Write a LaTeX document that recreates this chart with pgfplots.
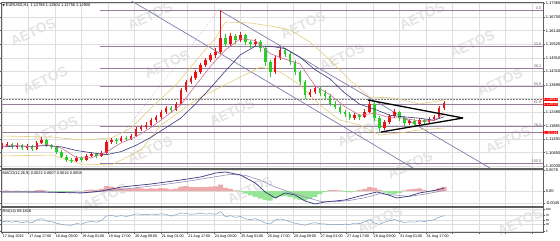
\documentclass[border=0pt]{standalone}
\usepackage{pgfplots}
\usepackage{pgfplotstable}
\pgfplotsset{compat=1.18}
\usepackage{fontspec}
\setmainfont{Liberation Sans}
\newfontfamily\dejavu{DejaVu Sans}
\definecolor{bull}{RGB}{235,20,20}
\definecolor{bear}{RGB}{40,205,40}
\definecolor{fib}{RGB}{150,125,155}
\definecolor{chan}{RGB}{125,125,170}
\definecolor{mafast}{RGB}{200,110,150}
\definecolor{maslow}{RGB}{55,55,125}
\definecolor{boll}{RGB}{228,205,125}
\definecolor{gridc}{RGB}{222,222,222}
\definecolor{framec}{RGB}{95,95,95}
\definecolor{wm}{RGB}{228,228,228}
\definecolor{histpos}{RGB}{238,170,170}
\definecolor{histneg}{RGB}{150,228,150}
\definecolor{rsic}{RGB}{120,160,200}
\definecolor{macdsig}{RGB}{150,140,185}

\pgfplotstableread{
i o h l c
0 1.10905 1.11085 1.10815 1.10950
1 1.10950 1.11130 1.10905 1.11040
3 1.10905 1.11085 1.10815 1.10995
5 1.10860 1.11040 1.10770 1.10950
7 1.10815 1.11175 1.10770 1.11085
8 1.11085 1.11355 1.11040 1.11220
15 1.10275 1.10500 1.10230 1.10410
17 1.10320 1.10590 1.10275 1.10500
18 1.10500 1.10680 1.10455 1.10590
20 1.10500 1.10725 1.10455 1.10635
21 1.10635 1.11220 1.10590 1.11130
22 1.11130 1.11310 1.11040 1.11220
24 1.11175 1.11400 1.11130 1.11310
26 1.11265 1.11490 1.11220 1.11400
27 1.11400 1.11805 1.11355 1.11715
28 1.11715 1.11895 1.11625 1.11805
29 1.11805 1.12030 1.11715 1.11895
30 1.11895 1.12210 1.11850 1.12120
31 1.12120 1.12345 1.12030 1.12255
32 1.12255 1.12570 1.12165 1.12480
33 1.12480 1.12750 1.12390 1.12660
35 1.12570 1.12930 1.12525 1.12840
36 1.12840 1.13560 1.12795 1.13470
37 1.13470 1.13920 1.13380 1.13830
38 1.13830 1.14100 1.13740 1.14010
39 1.14010 1.14370 1.13920 1.14280
40 1.14280 1.14685 1.14190 1.14595
41 1.14595 1.14910 1.14505 1.14820
42 1.14820 1.15135 1.14730 1.15045
43 1.15045 1.15360 1.14910 1.15180
44 1.15180 1.17070 1.15090 1.15810
46 1.15540 1.16035 1.15450 1.15900
48 1.15720 1.16080 1.15630 1.15945
51 1.15540 1.15765 1.15450 1.15630
55 1.14280 1.15000 1.14190 1.14910
56 1.14910 1.15405 1.14820 1.15270
62 1.13245 1.13515 1.13155 1.13380
63 1.13380 1.13650 1.13290 1.13560
71 1.12210 1.12435 1.12120 1.12345
73 1.12255 1.12615 1.12210 1.12480
74 1.12480 1.13020 1.12435 1.12840
77 1.11760 1.12120 1.11670 1.12030
78 1.12030 1.12390 1.11940 1.12300
79 1.12300 1.12615 1.12210 1.12480
82 1.11985 1.12165 1.11895 1.12075
84 1.11940 1.12210 1.11850 1.12120
86 1.12030 1.12255 1.11940 1.12165
87 1.12165 1.12345 1.12075 1.12255
88 1.12255 1.12750 1.12210 1.12660
89 1.12660 1.12975 1.12570 1.12900
}\bulltab

\pgfplotstableread{
i o h l c
2 1.11040 1.11085 1.10815 1.10905
4 1.10995 1.11040 1.10770 1.10860
6 1.10950 1.10995 1.10725 1.10815
9 1.11220 1.11265 1.10905 1.10995
10 1.10995 1.11040 1.10815 1.10905
11 1.10905 1.10950 1.10590 1.10680
12 1.10680 1.10770 1.10410 1.10455
13 1.10455 1.10545 1.10230 1.10320
14 1.10320 1.10410 1.10185 1.10275
16 1.10410 1.10500 1.10230 1.10320
19 1.10590 1.10635 1.10410 1.10500
23 1.11220 1.11310 1.11040 1.11175
25 1.11310 1.11400 1.11175 1.11265
34 1.12660 1.12750 1.12435 1.12570
45 1.15810 1.15990 1.15405 1.15540
47 1.15900 1.15990 1.15540 1.15720
49 1.15945 1.15990 1.15495 1.15630
50 1.15630 1.15720 1.15360 1.15540
52 1.15630 1.15720 1.15180 1.15360
53 1.15360 1.15450 1.14550 1.14730
54 1.14730 1.14820 1.14055 1.14280
57 1.15270 1.15360 1.14955 1.15090
58 1.15090 1.15180 1.14595 1.14730
59 1.14730 1.14820 1.14145 1.14280
60 1.14280 1.14370 1.13695 1.13830
61 1.13830 1.13920 1.13065 1.13245
64 1.13560 1.13605 1.13200 1.13335
65 1.13335 1.13470 1.13065 1.13200
66 1.13200 1.13290 1.12750 1.12840
67 1.12840 1.12975 1.12615 1.12705
68 1.12705 1.12795 1.12390 1.12480
69 1.12480 1.12570 1.12255 1.12390
70 1.12390 1.12480 1.12120 1.12210
72 1.12345 1.12390 1.12120 1.12255
75 1.12840 1.12930 1.12075 1.12210
76 1.12210 1.12300 1.11580 1.11760
80 1.12480 1.12525 1.12075 1.12210
81 1.12210 1.12300 1.11850 1.11985
83 1.12075 1.12165 1.11805 1.11940
85 1.12120 1.12165 1.11895 1.12030
}\beartab

\tikzset{lab/.style={font=\fontsize{3.9}{4.5}\selectfont, inner sep=0.4pt}}
\pgfplotsset{
  panel/.style={
    scale only axis, width=542pt,
    xmin=-0.2, xmax=108.9,
    axis line style={framec, line width=0.9pt},
    xtick={0,5.3333,10.6667,16,21.3333,26.6667,32,37.3333,42.6667,48,53.3333,58.6667,64,69.3333,74.6667,80,85.3333,90.6667,96,101.3333,106.6667},
    minor x tick num=1,
    xmajorgrids, xminorgrids, ymajorgrids,
    major grid style={gridc, line width=0.4pt},
    minor grid style={gridc, line width=0.4pt},
    yticklabel pos=right,
    tick align=outside,
    major tick length=2pt, minor tick length=1.2pt,
    tick style={framec, line width=0.4pt},
    ticklabel style={font=\fontsize{4}{4.5}\selectfont, text=black},
    yticklabel style={anchor=west, inner sep=0.6pt},
    scaled y ticks=false,
    clip mode=individual,
  },
  nox/.style={xticklabels={}, xtick style={draw=none}},
  wick/.style={draw=none, mark=none, error bars/.cd, y dir=both, y explicit, error mark=none, error bar style={draw=#1, line width=0.55pt}},
  body/.style 2 args={draw=none, mark=none, error bars/.cd, y dir=#2, y explicit, error mark=none, error bar style={draw=#1, line width=2.5pt}},
}

\begin{document}
\begin{tikzpicture}
\useasboundingbox (0pt,0pt) rectangle (560pt,-241pt);
% watermarks
\begin{scope}[every node/.style={rotate=25, text=wm, font=\fontsize{14}{14}\selectfont\bfseries}]
\node at (33pt,-32pt) {AETOS};
\node at (150pt,-16pt) {AETOS};
\node at (167pt,-64pt) {AETOS};
\node at (45pt,-80pt) {AETOS};
\node at (232pt,-112pt) {AETOS};
\node at (303pt,-25pt) {AETOS};
\node at (422pt,-16pt) {AETOS};
\node at (472pt,-44pt) {AETOS};
\node at (342pt,-57pt) {AETOS};
\node at (500pt,-82pt) {AETOS};
\node at (55pt,-130pt) {AETOS};
\node at (360pt,-133pt) {AETOS};
\node at (410pt,-165pt) {AETOS};
\node at (508pt,-140pt) {AETOS};
\node at (250pt,-190pt) {AETOS};
\node at (105pt,-197pt) {AETOS};
\node at (380pt,-220pt) {AETOS};
\node at (520pt,-222pt) {AETOS};
\node at (150pt,-150pt) {AETOS};
\end{scope}

% ---------------- main price panel
\begin{axis}[panel, nox, at={(1pt,-168.5pt)}, anchor=south west, height=166.5pt,
  ymin=1.099375, ymax=1.1743,
  ytick={1.10035,1.10650,1.11250,1.11865,1.12480,1.13080,1.13695,1.14310,1.14910,1.15525,1.16140,1.16750,1.17365},
  yticklabels={1.10035,1.10650,1.11250,1.11865,1.12480,{},1.13695,1.14310,1.14910,1.15525,1.16140,1.16750,1.17365}]
% fibonacci levels
\addplot[fib, line width=0.9pt] coordinates {(19.73,1.17070) (108.9,1.17070)};
\addplot[fib, line width=0.9pt] coordinates {(19.73,1.15445) (108.9,1.15445)};
\addplot[fib, line width=0.9pt] coordinates {(19.73,1.14440) (108.9,1.14440)};
\addplot[fib, line width=0.9pt] coordinates {(19.73,1.13628) (108.9,1.13628)};
\addplot[fib, line width=0.9pt] coordinates {(-0.2,1.12815) (108.9,1.12815)};
\addplot[fib, line width=0.9pt] coordinates {(19.73,1.11810) (108.9,1.11810)};
\addplot[fib, line width=0.9pt] coordinates {(-0.2,1.11549) (108.9,1.11549)};
\addplot[fib, line width=0.9pt] coordinates {(19.73,1.10185) (108.9,1.10185)};
\addplot[gray, line width=0.5pt, densely dotted] coordinates {(-0.2,1.13043) (108.9,1.13043)};
\addplot[gray!80, line width=0.5pt, dotted] coordinates {(19.73,1.10185) (43.68,1.17070)};
% channel
\addplot[chan, line width=0.7pt] coordinates {(25.77,1.17520) (82.73,1.09960)};
\addplot[chan, line width=0.7pt] coordinates {(43.68,1.17070) (98.23,1.09960)};
% bollinger bands
\addplot[boll, line width=0.6pt] coordinates {(0,1.1140) (10,1.11355) (16,1.1122) (22,1.1131) (26,1.1176) (30,1.1266) (35,1.13695) (40,1.15045) (43,1.1581) (45,1.1653) (50,1.16485) (54,1.1635) (58,1.1617) (62,1.1563) (66,1.1482) (70,1.1392) (74,1.13155) (79,1.1311) (84,1.1284) (89,1.1302)};
\addplot[boll, line width=0.6pt] coordinates {(0,1.1050) (10,1.10545) (16,1.1014) (22,1.10095) (28,1.1077) (32,1.11895) (40,1.13155) (52,1.14505) (56,1.1428) (60,1.13695) (64,1.12795) (68,1.1212) (72,1.11895) (76,1.11445) (80,1.11535) (84,1.1167) (89,1.1176)};
% candles
\addplot[wick=bull] table[x=i, y=o, y error plus expr=\thisrow{h}-\thisrow{o}, y error minus expr=\thisrow{o}-\thisrow{l}] {\bulltab};
\addplot[body={bull}{plus}] table[x=i, y=o, y error plus expr=\thisrow{c}-\thisrow{o}] {\bulltab};
\addplot[wick=bear] table[x=i, y=o, y error plus expr=\thisrow{h}-\thisrow{o}, y error minus expr=\thisrow{o}-\thisrow{l}] {\beartab};
\addplot[body={bear}{minus}] table[x=i, y=o, y error minus expr=\thisrow{o}-\thisrow{c}] {\beartab};
% moving averages
\addplot[maslow, line width=0.6pt] coordinates {(0,1.10905) (3,1.1095) (6,1.10932) (9,1.10973) (12,1.1091) (15,1.10748) (18,1.10646) (21,1.10559) (24,1.10698) (27,1.10982) (30,1.11346) (33,1.11774) (36,1.12206) (39,1.12851) (42,1.13571) (45,1.14334) (48,1.15056) (51,1.15446) (54,1.15439) (57,1.15333) (60,1.14942) (63,1.14388) (66,1.13974) (69,1.13331) (72,1.12829) (75,1.12606) (78,1.12334) (81,1.1226) (84,1.12201) (87,1.12111) (89,1.12266)};
\addplot[mafast, line width=0.6pt] coordinates {(0,1.1095) (3,1.10973) (6,1.10905) (9,1.11013) (12,1.10851) (15,1.10428) (18,1.10419) (21,1.10671) (24,1.11094) (27,1.11373) (30,1.11787) (33,1.12282) (36,1.12804) (39,1.13686) (42,1.1455) (45,1.15279) (48,1.15783) (51,1.15693) (54,1.15108) (57,1.14856) (60,1.1464) (63,1.13659) (66,1.13263) (69,1.12723) (72,1.12336) (75,1.12426) (78,1.12228) (81,1.12201) (84,1.12066) (87,1.12102) (89,1.12417)};
% triangle
\addplot[black, line width=1.3pt] coordinates {(73.67,1.1302) (92.8,1.1221)};
\addplot[black, line width=1.3pt] coordinates {(76.29,1.1158) (92.8,1.1221)};
% fib labels
\node[lab, text=fib!80!black, anchor=south east] at (axis cs:108.7,1.17070) {0.0};
\node[lab, text=fib!80!black, anchor=south east] at (axis cs:108.7,1.15445) {23.6};
\node[lab, text=fib!80!black, anchor=south east] at (axis cs:108.7,1.14440) {38.2};
\node[lab, text=fib!80!black, anchor=south east] at (axis cs:108.7,1.13628) {50.0};
\node[lab, text=fib!80!black, anchor=south east] at (axis cs:108.7,1.12815) {61.8};
\node[lab, text=fib!80!black, anchor=south east] at (axis cs:108.7,1.11810) {76.4};
\node[lab, text=fib!80!black, anchor=south east] at (axis cs:108.7,1.10185) {100.0};
% price boxes
\node[lab, fill=red, text=white, anchor=west, minimum width=15pt] at (axis cs:108.9,1.13043) {1.13043};
\node[lab, fill=red, text=white, anchor=west, minimum width=15pt] at (axis cs:108.9,1.12815) {1.12815};
\node[lab, fill=red, text=white, anchor=west, minimum width=15pt] at (axis cs:108.9,1.11549) {1.11549};
% header
\node[lab, anchor=north west] at (rel axis cs:0,1) [xshift=1pt, yshift=-1.2pt] {{\dejavu\fontsize{3}{3}\selectfont ▼}\ EURUSD,H1\ \ 1.12788 1.12904 1.12756 1.12900};
\end{axis}

% ---------------- MACD panel
\begin{axis}[panel, nox, at={(1pt,-206.5pt)}, anchor=south west, height=37pt,
  ymin=-0.00575, ymax=0.007977,
  ytick={-0.0045,0,0.0078}, yticklabels={-0.0045,0.00,0.0078}]
\addplot[ybar, bar width=4.9pt, fill=histpos, draw=none] coordinates {(0,0.0001)(1,0.0002)(3,0.0001)(5,0.0001)(7,0.0003)(8,0.0004)(9,0.0001)(15,0.0001)(17,0.0003)(18,0.0005)(19,0.0004)(20,0.0008)(21,0.0018)(22,0.0016)(23,0.0012)(24,0.0010)(25,0.0007)(26,0.0008)(27,0.0012)(28,0.0010)(29,0.0008)(30,0.0010)(31,0.0009)(32,0.0011)(33,0.0010)(34,0.0006)(35,0.0009)(36,0.0016)(37,0.0018)(38,0.0015)(39,0.0014)(40,0.0015)(41,0.0014)(42,0.0016)(43,0.0017)(44,0.0024)(45,0.0012)(46,0.0008)(47,0.0002)(66,0.0003)(67,0.0004)(68,0.0002)(72,0.0004)(73,0.0008)(74,0.0014)(75,0.0012)(76,0.0004)(81,0.0002)(82,0.0006)(83,0.0008)(84,0.0010)(85,0.0004)(87,0.0004)(88,0.0010)(89,0.0015)};
\addplot[ybar, bar width=4.9pt, fill=histneg, draw=none] coordinates {(2,-0.0001)(4,-0.0002)(6,-0.0002)(10,-0.0002)(11,-0.0004)(12,-0.0005)(13,-0.0004)(14,-0.0003)(16,-0.0001)(48,-0.0002)(49,-0.0010)(50,-0.0016)(51,-0.0022)(52,-0.0028)(53,-0.0034)(54,-0.0036)(55,-0.0026)(56,-0.0020)(57,-0.0018)(58,-0.0022)(59,-0.0028)(60,-0.0033)(61,-0.0036)(62,-0.0030)(63,-0.0022)(64,-0.0012)(65,-0.0004)(69,-0.0003)(70,-0.0005)(71,-0.0002)(77,-0.0006)(78,-0.0010)(79,-0.0012)(80,-0.0008)(86,-0.0003)};
\addplot[macdsig, line width=0.6pt] coordinates {(0,-0.0003)(10,-0.0004)(18,-0.0005)(22,0.0002)(27,0.0012)(33,0.0025)(38,0.0038)(42,0.0050)(46,0.0062)(49,0.0058)(52,0.0040)(55,0.0015)(58,-0.0005)(61,-0.0022)(64,-0.0038)(67,-0.0040)(70,-0.0035)(73,-0.0025)(76,-0.0010)(79,-0.0015)(82,-0.0020)(85,-0.0012)(89,0.0002)};
\addplot[maslow, line width=0.7pt] coordinates {(0,-0.00037)(8,-0.00037)(16,-0.00074)(20,0)(24,0.00148)(30,0.0026)(36,0.00408)(40,0.0052)(43,0.00668)(45,0.00705)(48,0.00594)(51,0.00297)(53,-0.00037)(55,-0.0026)(57,-0.00074)(59,-0.00148)(61,-0.00371)(63,-0.00482)(65,-0.00408)(67,-0.00371)(69,-0.00334)(72,-0.00186)(75.5,-0.00037)(77.5,-0.0013)(79.5,-0.0026)(82,-0.0019)(84,-0.00074)(87,0.0002)(89,0.00111)};
\node[lab, anchor=north west] at (rel axis cs:0,1) [xshift=1pt, yshift=-1.2pt] {MACD(12,26,9) 0.0022 0.0007 0.0016 0.0008};
\end{axis}

% ---------------- RSI panel
\begin{axis}[panel, at={(1pt,-232pt)}, anchor=south west, height=24.5pt,
  ymin=-4.5, ymax=106.8,
  ytick={0,30,50,70,100}, yticklabels={0,30,50,70,100},
  yticklabel style={font=\fontsize{3}{3}\selectfont, inner sep=0pt, xshift=0.6pt},
  xticklabels={17 Aug 2015,17 Aug 17:00,18 Aug 09:00,19 Aug 01:00,19 Aug 17:00,20 Aug 09:00,21 Aug 01:00,21 Aug 17:00,24 Aug 09:00,25 Aug 01:00,25 Aug 17:00,26 Aug 09:00,27 Aug 01:00,27 Aug 17:00,28 Aug 09:00,31 Aug 01:00,31 Aug 17:00,{},{},{},{}},
  xticklabel style={anchor=north west, inner sep=0.6pt, font=\fontsize{3.7}{4}\selectfont}]
\addplot[rsic, line width=0.5pt] coordinates {(0,42)(1,45)(2,40)(3,44)(4,38)(5,43)(6,37)(7,50)(8,56)(9,45)(10,42)(11,35)(12,30)(13,27)(14,26)(15,34)(16,31)(17,40)(18,44)(19,40)(20,47)(21,68)(22,71)(23,66)(24,70)(25,66)(26,71)(27,78)(28,76)(29,74)(30,77)(31,75)(32,78)(33,76)(34,68)(35,74)(36,82)(37,80)(38,76)(39,78)(40,80)(41,77)(42,79)(43,76)(44,88)(45,64)(46,70)(47,62)(48,66)(49,55)(50,52)(51,56)(52,48)(53,36)(54,32)(55,50)(56,55)(57,50)(58,42)(59,35)(60,31)(61,26)(62,34)(63,38)(64,33)(65,32)(66,28)(67,30)(68,29)(69,31)(70,30)(71,36)(72,34)(73,42)(74,52)(75,36)(76,30)(77,40)(78,47)(79,52)(80,44)(81,39)(82,42)(83,40)(84,46)(85,43)(86,48)(87,51)(88,63)(89,70)};
\node[lab, anchor=north west] at (rel axis cs:0,1) [xshift=1pt, yshift=-1.2pt] {RSI(14) 69.1826};
\end{axis}
\end{tikzpicture}
\end{document}
